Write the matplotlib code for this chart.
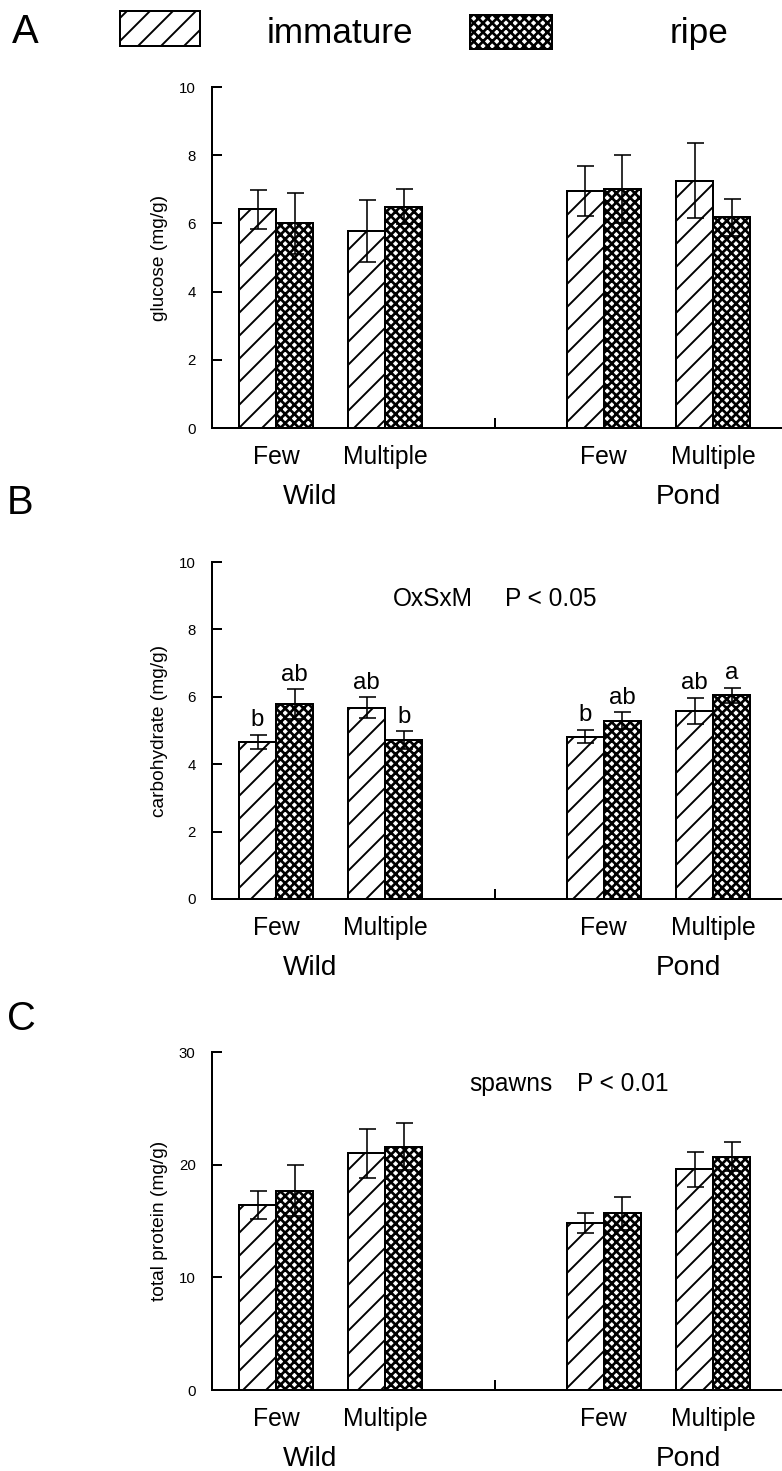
import numpy as np
import matplotlib
matplotlib.use("Agg")
import matplotlib.pyplot as plt
from matplotlib.patches import Rectangle

# %%
# data
spawns = ["Few", "Multiple", "Few", "Multiple"]
origins = ["Wild", "Pond"]

glucose_imm = [6.41, 5.78, 6.95, 7.25]
glucose_imm_err = [0.57, 0.90, 0.73, 1.10]
glucose_ripe = [6.00, 6.49, 7.01, 6.18]
glucose_ripe_err = [0.90, 0.52, 1.00, 0.55]

carb_imm = [4.67, 5.68, 4.82, 5.58]
carb_imm_err = [0.21, 0.31, 0.20, 0.39]
carb_ripe = [5.79, 4.72, 5.29, 6.05]
carb_ripe_err = [0.44, 0.26, 0.25, 0.22]
carb_imm_letters = ["b", "ab", "b", "ab"]
carb_ripe_letters = ["ab", "b", "ab", "a"]

protein_imm = [16.45, 21.0, 14.85, 19.6]
protein_imm_err = [1.25, 2.2, 0.9, 1.55]
protein_ripe = [17.7, 21.6, 15.68, 20.7]
protein_ripe_err = [2.25, 2.1, 1.47, 1.28]

# %%
W, H, DPI = 782, 1471, 138
PT = 72 / DPI  # points per pixel

plt.rcParams["font.family"] = ["Liberation Sans", "DejaVu Sans"]

fig = plt.figure(figsize=(W / DPI, H / DPI), dpi=DPI)


def fx(px):
    return px / W


def fy(py):
    return 1 - py / H


xpos = np.array([1, 2, 4, 5])
bw = 0.339
IMM_HATCH = "//"
RIPE_HATCH = "xxxxx"


def make_axes(top, bottom):
    return fig.add_axes([fx(212), fy(bottom), fx(W - 212), (bottom - top) / H])


def draw_panel(ax, imm, imm_err, ripe, ripe_err, ymax, yticks, ylabel, hpx):
    with plt.rc_context({"hatch.linewidth": 1.0}):
        ax.bar(xpos - bw / 2, imm, bw, color="white", edgecolor="black",
               hatch=IMM_HATCH, linewidth=2 * PT, zorder=2)
    with plt.rc_context({"hatch.linewidth": 1.4}):
        ax.bar(xpos + bw / 2, ripe, bw, color="white", edgecolor="black",
               hatch=RIPE_HATCH, linewidth=2 * PT, zorder=2)
    ax.errorbar(xpos - bw / 2, imm, yerr=imm_err, fmt="none", ecolor="black",
                elinewidth=1.6 * PT, capsize=8.5 * PT, capthick=1.6 * PT, zorder=3)
    ax.errorbar(xpos + bw / 2, ripe, yerr=ripe_err, fmt="none", ecolor="black",
                elinewidth=1.6 * PT, capsize=8.5 * PT, capthick=1.6 * PT, zorder=3)

    ax.set_xlim(0.414, 5.63)
    ax.set_ylim(0, ymax)
    ax.set_yticks(yticks)
    ax.tick_params(axis="y", direction="in", length=10 * PT, width=2 * PT,
                   labelsize=7.8, pad=8.5)
    ax.set_xticks(xpos)
    ax.set_xticklabels(spawns)
    ax.tick_params(axis="x", which="major", length=0, pad=9, labelsize=12.9)
    ax.set_xticks([3], minor=True)
    ax.tick_params(axis="x", which="minor", direction="in", length=10 * PT,
                   width=2 * PT)
    for s in ["top", "right"]:
        ax.spines[s].set_visible(False)
    for s in ["left", "bottom"]:
        ax.spines[s].set_linewidth(2 * PT)

    ax.text(-52 / 570, 0.5, ylabel, rotation=90, transform=ax.transAxes,
            ha="center", va="center", fontsize=10)
    tr = ax.get_xaxis_transform()
    ax.text(1.31, -69 / hpx, origins[0], transform=tr, ha="center",
            va="center", fontsize=14.6)
    ax.text(4.77, -69 / hpx, origins[1], transform=tr, ha="center",
            va="center", fontsize=14.6)


# A
axA = make_axes(87, 428)
draw_panel(axA, glucose_imm, glucose_imm_err, glucose_ripe, glucose_ripe_err,
           10, [0, 2, 4, 6, 8, 10], "glucose (mg/g)", 341)

# B
axB = make_axes(562, 899)
draw_panel(axB, carb_imm, carb_imm_err, carb_ripe, carb_ripe_err,
           10, [0, 2, 4, 6, 8, 10], "carbohydrate (mg/g)", 337)
for i in range(4):
    axB.text(xpos[i] - bw / 2, carb_imm[i] + carb_imm_err[i] + 0.25,
             carb_imm_letters[i], ha="center", va="baseline", fontsize=12.5)
    axB.text(xpos[i] + bw / 2, carb_ripe[i] + carb_ripe_err[i] + 0.25,
             carb_ripe_letters[i], ha="center", va="baseline", fontsize=12.5)
fig.text(fx(393), fy(599), "OxSxM", ha="left", va="center", fontsize=12.8)
fig.text(fx(505), fy(599), "P < 0.05", ha="left", va="center", fontsize=12.8)

# C
axC = make_axes(1052, 1390)
draw_panel(axC, protein_imm, protein_imm_err, protein_ripe, protein_ripe_err,
           30, [0, 10, 20, 30], "total protein (mg/g)", 338)
fig.text(fx(469), fy(1084), "spawns", ha="left", va="center", fontsize=12.8)
fig.text(fx(577), fy(1084), "P < 0.01", ha="left", va="center", fontsize=12.8)

# panel letters
fig.text(fx(12), fy(43), "A", ha="left", va="baseline", fontsize=20.9)
fig.text(fx(7), fy(514), "B", ha="left", va="baseline", fontsize=20.9)
fig.text(fx(7), fy(1030), "C", ha="left", va="baseline", fontsize=20.9)

# legend
with plt.rc_context({"hatch.linewidth": 1.0}):
    fig.add_artist(Rectangle((fx(120), fy(46)), fx(80), 35 / H,
                             transform=fig.transFigure, facecolor="white",
                             edgecolor="black", hatch=IMM_HATCH, linewidth=2 * PT))
with plt.rc_context({"hatch.linewidth": 1.4}):
    fig.add_artist(Rectangle((fx(470), fy(49)), fx(82), 34 / H,
                             transform=fig.transFigure, facecolor="white",
                             edgecolor="black", hatch=RIPE_HATCH, linewidth=2 * PT))
fig.text(fx(267), fy(43), "immature", ha="left", va="baseline", fontsize=18.3)
fig.text(fx(670), fy(43), "ripe", ha="left", va="baseline", fontsize=18.3)

fig.savefig("out.png", dpi=DPI, facecolor="white")
